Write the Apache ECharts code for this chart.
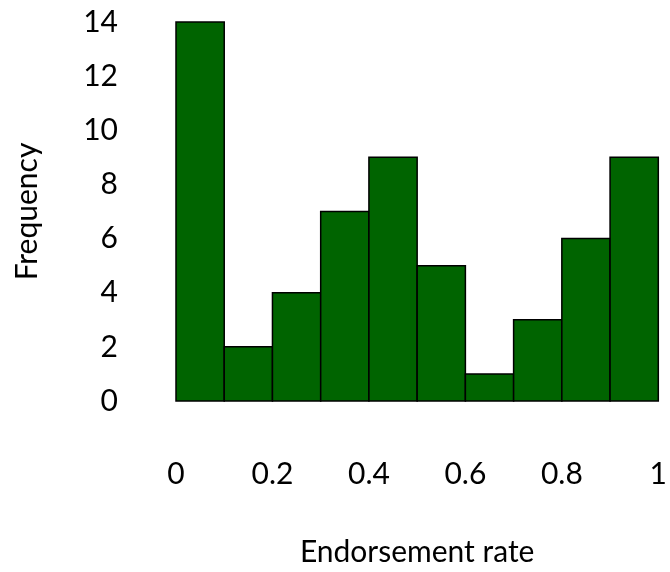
<!DOCTYPE html>
<html>
<head>
<meta charset="utf-8">
<script src="https://cdn.jsdelivr.net/npm/echarts@6/dist/echarts.min.js"></script>
<style>
html,body{margin:0;padding:0;background:#fff;}
#chart{width:670px;height:572px;}
</style>
</head>
<body>
<div id="chart"></div>
<script>
const binStarts = [0, 0.1, 0.2, 0.3, 0.4, 0.5, 0.6, 0.7, 0.8, 0.9];
const binWidth = 0.1;
const frequencies = [14, 2, 4, 7, 9, 5, 1, 3, 6, 9];
const xTickLabels = ['0', '0.2', '0.4', '0.6', '0.8', '1'];
const yTickLabels = ['0', '2', '4', '6', '8', '10', '12', '14'];
const xTitle = 'Endorsement rate';
const yTitle = 'Frequency';

const data = binStarts.map((s, i) => [s, s + binWidth, frequencies[i]]);
const FONT = 'Lato';

const chart = echarts.init(document.getElementById('chart'), null, {renderer: 'canvas'});
chart.setOption({
  animation: false,
  backgroundColor: '#ffffff',
  grid: {left: 176, right: 4, top: 22, bottom: 166, containLabel: false},
  xAxis: {
    type: 'value', min: 0, max: 1, interval: 0.2,
    axisLine: {show: false}, axisTick: {show: false}, splitLine: {show: false},
    axisLabel: {
      margin: 58, fontFamily: FONT, fontSize: 30, color: '#000', lineHeight: 30,
      formatter: (v) => xTickLabels[Math.round(v / 0.2)]
    },
    name: xTitle, nameLocation: 'middle', nameGap: 136,
    nameTextStyle: {fontFamily: FONT, fontSize: 30, color: '#000', lineHeight: 30}
  },
  yAxis: {
    type: 'value', min: 0, max: 14, interval: 2,
    axisLine: {show: false}, axisTick: {show: false}, splitLine: {show: false},
    axisLabel: {
      margin: 58, fontFamily: FONT, fontSize: 30, color: '#000',
      formatter: (v) => yTickLabels[Math.round(v / 2)]
    },
    name: yTitle, nameLocation: 'middle', nameGap: 134, nameRotate: 90,
    nameTextStyle: {fontFamily: FONT, fontSize: 30, color: '#000', lineHeight: 30}
  },
  series: [{
    type: 'custom',
    data: data,
    encode: {x: [0, 1], y: 2},
    renderItem: function (params, api) {
      const p0 = api.coord([api.value(0), 0]);
      const p1 = api.coord([api.value(1), api.value(2)]);
      return {
        type: 'rect',
        shape: {x: p0[0], y: p1[1], width: p1[0] - p0[0], height: p0[1] - p1[1]},
        style: {fill: '#006400', stroke: '#000000', lineWidth: 1.5}
      };
    }
  }]
});
</script>
</body>
</html>
